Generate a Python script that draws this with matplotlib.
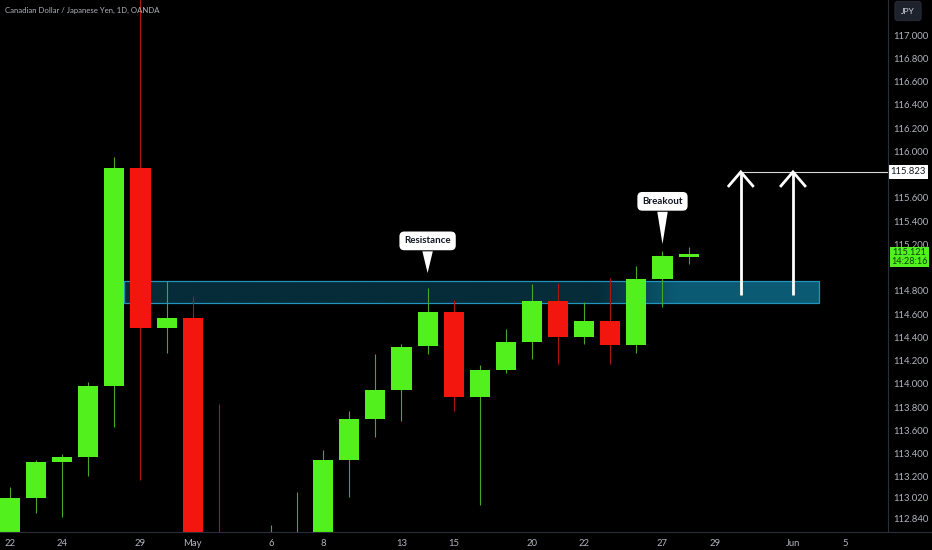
import numpy as np
import matplotlib
matplotlib.use('Agg')
import matplotlib.pyplot as plt
from matplotlib.patches import Polygon, Rectangle

plt.rcParams['font.family'] = ['Lato', 'DejaVu Sans']

# daily candles, CADJPY (bars below the frame estimated)
opens  = [112.62, 113.019, 113.329, 113.372, 113.982, 115.856, 114.481, 114.567, 112.55, 112.30,
          112.45, 112.60, 112.70, 113.346, 113.698, 113.948, 114.326, 114.618, 113.887, 114.119,
          114.360, 114.713, 114.403, 114.541, 114.335, 114.902, 115.095]
highs  = [113.11, 113.346, 113.397, 114.016, 115.951, 117.50, 114.885, 114.756, 113.827, 112.65,
          112.787, 113.071, 113.432, 113.767, 114.257, 114.343, 114.825, 114.722, 114.163, 114.472,
          114.859, 114.868, 114.704, 114.911, 115.014, 115.143, 115.177]
lows   = [112.50, 112.89, 112.856, 113.208, 113.629, 113.174, 114.266, 112.30, 112.20, 112.10,
          112.35, 112.40, 112.60, 113.028, 113.543, 113.681, 114.257, 113.767, 112.959, 114.094,
          114.214, 114.171, 114.343, 114.171, 114.266, 114.661, 115.031]
closes = [113.019, 113.329, 113.372, 113.982, 115.856, 114.481, 114.567, 112.45, 112.30, 112.45,
          112.60, 112.70, 113.346, 113.698, 113.948, 114.317, 114.618, 113.887, 114.119, 114.360,
          114.713, 114.403, 114.541, 114.335, 114.902, 115.100, 115.121]

date_pos = [0, 2, 5, 7, 10, 12, 15, 17, 20, 22, 25, 27, 30, 32]
date_labels = ['22', '24', '29', 'May', '6', '8', '13', '15', '20', '22', '27', '29', 'Jun', '5']

# 115.000 sits behind the live price tag, left out
price_ticks = [117.0, 116.8, 116.6, 116.4, 116.2, 116.0, 115.6, 115.4, 115.2,
               114.8, 114.6, 114.4, 114.2, 114.0, 113.8, 113.6, 113.4, 113.2, 113.02, 112.84]

zone_low, zone_high = 114.696, 114.885
zone_x0, zone_x1 = 4.37, 31.0
target = 115.823
arrow_x = [28, 30]
arrow_base = 114.764
last_price = closes[-1]

GREEN = '#52f01c'
RED = '#f2160f'
BG = '#000000'
TXT = '#b2b5be'

fig = plt.figure(figsize=(9.32, 5.5), dpi=100, facecolor=BG)
ax = fig.add_axes([0, 18 / 550, 888 / 932, 532 / 550], facecolor=BG)
ax.set_xlim(-0.383, 33.64)
ax.set_ylim(112.727, 117.301)

# resistance zone, darker where price already traded
xs = np.linspace(zone_x0, zone_x1, 300)
t = np.clip((xs - 22.5) / 3.0, 0, 1)
c0 = np.array([5, 44, 56]) / 255
c1 = np.array([11, 90, 115]) / 255
grad = (c0[None, :] * (1 - t[:, None]) + c1[None, :] * t[:, None])[None, :, :]
ax.imshow(grad, extent=[zone_x0, zone_x1, zone_low, zone_high], aspect='auto', zorder=1)
ax.add_patch(Rectangle((zone_x0, zone_low), zone_x1 - zone_x0, zone_high - zone_low,
                       fill=False, ec='#2394bd', lw=0.9, zorder=2))

# candles
o = np.array(opens); c = np.array(closes)
idx = np.arange(len(o))
up = c >= o
cols = np.where(up, GREEN, RED)
wick_cols = np.where(up, '#48a826', '#b0140f')
ax.vlines(idx, lows, highs, colors=wick_cols, lw=0.8, zorder=3)
ax.bar(idx, np.maximum(np.abs(c - o), 0.01), bottom=np.minimum(o, c), width=0.77,
       color=cols, lw=0, zorder=4)

# target arrows and level
ax.plot([arrow_x[0], 34], [target, target], color='#d8d8d8', lw=0.8, zorder=5)
for a_x in arrow_x:
    ax.plot([a_x, a_x], [arrow_base, target - 0.01], color='white', lw=2.0,
            solid_capstyle='butt', zorder=6)
    ax.plot([a_x - 0.46, a_x, a_x + 0.46], [target - 0.12, target, target - 0.12],
            color='white', lw=2.0, solid_joinstyle='miter', zorder=6)


def callout(x, tip_y, box_y, text):
    ax.add_patch(Polygon([[x - 0.2, box_y], [x + 0.2, box_y], [x, tip_y]],
                         closed=True, fc='white', ec='none', zorder=7))
    ax.text(x, box_y + 0.09, text, ha='center', va='center', fontsize=7,
            fontweight='bold', color='#131722', zorder=8,
            bbox=dict(boxstyle='round,pad=0.5,rounding_size=0.5', fc='white', ec='none'))


callout(16.0, 114.954, 115.14, 'Resistance')
callout(25.0, 115.203, 115.48, 'Breakout')

# axes styling
for s in ax.spines.values():
    s.set_visible(False)
ax.set_xticks(date_pos)
ax.set_xticklabels(date_labels)
ax.tick_params(axis='x', length=0, pad=5, labelsize=6.8, labelcolor=TXT)
ax.yaxis.tick_right()
ax.set_yticks(price_ticks)
ax.set_yticklabels(['%.3f' % p for p in price_ticks])
ax.tick_params(axis='y', length=0, pad=4, labelsize=6.8, labelcolor=TXT)

# frame lines of the price and time scales
fig.add_artist(plt.Line2D([0, 1], [18 / 550, 18 / 550], color='#2a2e39', lw=0.8))
fig.add_artist(plt.Line2D([888 / 932, 888 / 932], [18 / 550, 1], color='#2a2e39', lw=0.8))

fig.text(5 / 932, 1 - 10 / 550, 'Canadian Dollar / Japanese Yen, 1D, OANDA', fontsize=5.6,
         color=TXT, ha='left', va='center')
fig.text(908 / 932, 1 - 11 / 550, 'JPY', fontsize=6, color='#d1d4dc', ha='center', va='center',
         bbox=dict(boxstyle='round,pad=0.75,rounding_size=0.35', fc='#1e222d', ec='#2a2e39', lw=0.6))

# price labels on the scale
ax.annotate('%.3f' % target, xy=(1, target), xycoords=('axes fraction', 'data'),
            xytext=(14.5, 0), textcoords='offset points', ha='center', va='center',
            fontsize=6.8, color='#131722', annotation_clip=False, zorder=9,
            bbox=dict(boxstyle='square,pad=0.25', fc='white', ec='none'))
ax.annotate('%.3f\n14:28:16' % last_price, xy=(1, last_price), xycoords=('axes fraction', 'data'),
            xytext=(15.5, -2.5), textcoords='offset points', ha='center', va='center',
            fontsize=6.6, color='#0b3d0b', linespacing=0.95, annotation_clip=False, zorder=9,
            bbox=dict(boxstyle='square,pad=0.15', fc=GREEN, ec='none'))

fig.savefig('out.png', dpi=100, facecolor=BG)
